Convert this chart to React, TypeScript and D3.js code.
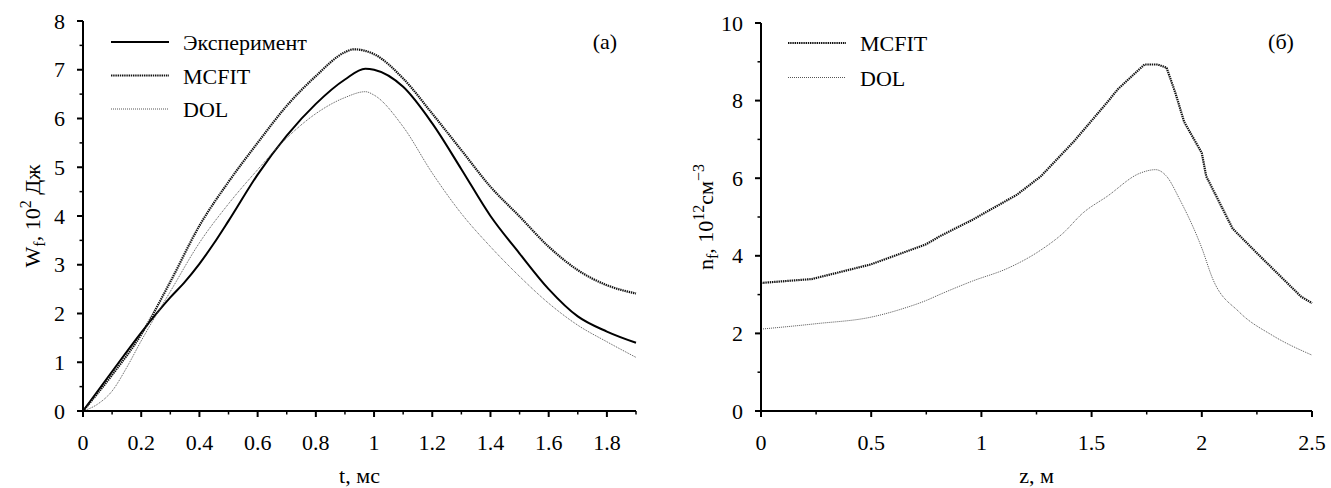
import React from "react";
import * as d3 from "d3";

// Panel (a): stored energy vs time
const tExp = [0, 0.1, 0.2, 0.3, 0.35, 0.4, 0.45, 0.5, 0.6, 0.7, 0.8, 0.9, 0.97, 1.0, 1.1, 1.2, 1.3, 1.4, 1.5, 1.6, 1.7, 1.8, 1.9];
const wExp = [0, 0.81, 1.61, 2.33, 2.65, 3.02, 3.44, 3.9, 4.85, 5.65, 6.3, 6.8, 7.02, 7.0, 6.65, 5.9, 4.96, 4.0, 3.23, 2.5, 1.94, 1.63, 1.4];

const tMcfit = [0, 0.1, 0.2, 0.3, 0.4, 0.5, 0.6, 0.7, 0.8, 0.9, 0.93, 1.0, 1.1, 1.2, 1.3, 1.4, 1.5, 1.6, 1.7, 1.8, 1.9];
const wMcfit = [0, 0.74, 1.57, 2.65, 3.8, 4.7, 5.5, 6.26, 6.87, 7.36, 7.42, 7.32, 6.82, 6.1, 5.35, 4.6, 3.99, 3.37, 2.89, 2.58, 2.41];

const tDol = [0, 0.05, 0.1, 0.15, 0.2, 0.3, 0.4, 0.5, 0.6, 0.7, 0.8, 0.9, 0.97, 1.0, 1.1, 1.2, 1.3, 1.4, 1.5, 1.6, 1.7, 1.8, 1.9];
const wDol = [0, 0.14, 0.41, 0.89, 1.44, 2.45, 3.45, 4.25, 4.95, 5.6, 6.1, 6.43, 6.55, 6.48, 5.83, 4.88, 4.05, 3.37, 2.76, 2.21, 1.76, 1.42, 1.1];

// Panel (б): fast-ion density along z
const zMcfit = [0, 0.23, 0.5, 0.75, 0.81, 0.96, 1.16, 1.27, 1.42, 1.57, 1.62, 1.74, 1.8, 1.84, 1.88, 1.92, 2.0, 2.02, 2.14, 2.25, 2.45, 2.5];
const nMcfit = [3.3, 3.4, 3.78, 4.3, 4.5, 4.93, 5.57, 6.05, 6.95, 7.95, 8.3, 8.93, 8.93, 8.85, 8.2, 7.45, 6.65, 6.05, 4.7, 4.07, 2.95, 2.78];

const zDol = [0, 0.25, 0.5, 0.65, 0.75, 0.81, 0.96, 1.12, 1.27, 1.37, 1.46, 1.57, 1.72, 1.79, 1.84, 1.9, 2.0, 2.05, 2.17, 2.32, 2.5];
const nDol = [2.11, 2.25, 2.42, 2.65, 2.85, 3.0, 3.35, 3.68, 4.15, 4.58, 5.1, 5.53, 6.13, 6.22, 6.05, 5.45, 4.2, 3.4, 2.55, 1.95, 1.44];

const leftXMajor = [0, 0.2, 0.4, 0.6, 0.8, 1, 1.2, 1.4, 1.6, 1.8];
const leftXMinor = [0.1, 0.3, 0.5, 0.7, 0.9, 1.1, 1.3, 1.5, 1.7, 1.9];
const leftYMajor = [0, 1, 2, 3, 4, 5, 6, 7, 8];
const leftYMinor = [0.5, 1.5, 2.5, 3.5, 4.5, 5.5, 6.5, 7.5];

const rightXMajor = [0, 0.5, 1, 1.5, 2, 2.5];
const rightXMinor = [0.25, 0.75, 1.25, 1.75, 2.25];
const rightYMajor = [0, 2, 4, 6, 8, 10];
const rightYMinor = [1, 3, 5, 7, 9];

const FONT = "Liberation Serif";
const FS = 22;

const STYLES: Record<string, { stroke: string; width: number; dash?: string }> = {
  exp: { stroke: "#000", width: 2 },
  mcfit: { stroke: "#111", width: 2.2, dash: "1.4 0.8" },
  dol: { stroke: "#555", width: 1, dash: "1 1" },
};

type Series = { key: string; label: string; xs: number[]; ys: number[]; curve: d3.CurveFactory };

function Panel(props: {
  x0: number; x1: number; y0: number; y1: number;
  xDomain: [number, number]; yDomain: [number, number];
  xMajor: number[]; xMinor: number[]; yMajor: number[]; yMinor: number[];
  series: Series[];
  legendX: number; legendY: number; legendGap: number;
  tag: string; tagX: number;
  xLabel: React.ReactNode; yLabel: React.ReactNode; yLabelX: number;
}) {
  const x = d3.scaleLinear().domain(props.xDomain).range([props.x0, props.x1]);
  const y = d3.scaleLinear().domain(props.yDomain).range([props.y0, props.y1]);
  const fmt = (v: number) => String(v);
  const cy = (props.y0 + props.y1) / 2;
  return (
    <g style={{ fontFamily: FONT }} fill="#000">
      {props.series.map((s) => {
        const st = STYLES[s.key];
        const pts = s.xs.map((v, i) => [v, s.ys[i]] as [number, number]);
        const path = d3.line<[number, number]>().x((d) => x(d[0])).y((d) => y(d[1])).curve(s.curve)(pts) || "";
        return <path key={s.key} d={path} fill="none" stroke={st.stroke} strokeWidth={st.width} strokeDasharray={st.dash} />;
      })}
      {/* axes */}
      <line x1={props.x0} x2={props.x1} y1={props.y0} y2={props.y0} stroke="#000" strokeWidth={2} />
      <line x1={props.x0} x2={props.x0} y1={props.y0 + 1} y2={props.y1} stroke="#000" strokeWidth={2} />
      {props.xMajor.map((v) => (
        <g key={"xm" + v}>
          <line x1={x(v)} x2={x(v)} y1={props.y0} y2={props.y0 + 6} stroke="#000" strokeWidth={2} />
          <text x={x(v)} y={props.y0 + 39} fontSize={FS} textAnchor="middle">{fmt(v)}</text>
        </g>
      ))}
      {props.xMinor.map((v) => (
        <line key={"xn" + v} x1={x(v)} x2={x(v)} y1={props.y0} y2={props.y0 + 3.5} stroke="#000" strokeWidth={1.5} />
      ))}
      {props.yMajor.map((v) => (
        <g key={"ym" + v}>
          <line x1={props.x0 - 6} x2={props.x0} y1={y(v)} y2={y(v)} stroke="#000" strokeWidth={2} />
          <text x={props.x0 - 18} y={y(v) + 7.5} fontSize={FS} textAnchor="end">{fmt(v)}</text>
        </g>
      ))}
      {props.yMinor.map((v) => (
        <line key={"yn" + v} x1={props.x0 - 3.5} x2={props.x0} y1={y(v)} y2={y(v)} stroke="#000" strokeWidth={1.5} />
      ))}
      {/* legend */}
      {props.series.map((s, i) => {
        const st = STYLES[s.key];
        const ly = props.legendY + i * props.legendGap;
        return (
          <g key={"lg" + s.key}>
            <line x1={props.legendX} x2={props.legendX + 58} y1={ly} y2={ly} stroke={st.stroke} strokeWidth={st.width} strokeDasharray={st.dash} />
            <text x={props.legendX + 72} y={ly + 8} fontSize={FS}>{s.label}</text>
          </g>
        );
      })}
      <text x={props.tagX} y={49} fontSize={FS} textAnchor="middle">{props.tag}</text>
      <text x={(props.x0 + props.x1) / 2} y={483} fontSize={FS} textAnchor="middle">{props.xLabel}</text>
      <text transform={`translate(${props.yLabelX},${cy}) rotate(-90)`} fontSize={FS} textAnchor="middle">{props.yLabel}</text>
    </g>
  );
}

export default function App() {
  return (
    <svg width={1331} height={488} style={{ position: "absolute", left: 0, top: 0, background: "#fff" }}>
      <rect width={1331} height={488} fill="#fff" />
      <Panel
        x0={83} x1={636} y0={411} y1={21}
        xDomain={[0, 1.9]} yDomain={[0, 8]}
        xMajor={leftXMajor} xMinor={leftXMinor} yMajor={leftYMajor} yMinor={leftYMinor}
        series={[
          { key: "exp", label: "Эксперимент", xs: tExp, ys: wExp, curve: d3.curveMonotoneX },
          { key: "mcfit", label: "MCFIT", xs: tMcfit, ys: wMcfit, curve: d3.curveMonotoneX },
          { key: "dol", label: "DOL", xs: tDol, ys: wDol, curve: d3.curveMonotoneX },
        ]}
        legendX={111} legendY={42} legendGap={33.5}
        tag="(a)" tagX={605}
        xLabel="t, мс"
        yLabel={<>
          <tspan>W</tspan><tspan fontSize={16} dy={5}>f</tspan><tspan dy={-5}>, 10</tspan>
          <tspan fontSize={16} dy={-9}>2</tspan><tspan dy={9}> Дж</tspan>
        </>}
        yLabelX={40}
      />
      <Panel
        x0={761} x1={1312} y0={411} y1={23}
        xDomain={[0, 2.5]} yDomain={[0, 10]}
        xMajor={rightXMajor} xMinor={rightXMinor} yMajor={rightYMajor} yMinor={rightYMinor}
        series={[
          { key: "mcfit", label: "MCFIT", xs: zMcfit, ys: nMcfit, curve: d3.curveLinear },
          { key: "dol", label: "DOL", xs: zDol, ys: nDol, curve: d3.curveMonotoneX },
        ]}
        legendX={788} legendY={43} legendGap={34.5}
        tag="(б)" tagX={1281}
        xLabel="z, м"
        yLabel={<>
          <tspan>n</tspan><tspan fontSize={16} dy={5}>f</tspan><tspan dy={-5}>, 10</tspan>
          <tspan fontSize={16} dy={-9}>12</tspan><tspan dy={9}>см</tspan>
          <tspan fontSize={16} dy={-9}>−3</tspan>
        </>}
        yLabelX={713}
      />
    </svg>
  );
}
